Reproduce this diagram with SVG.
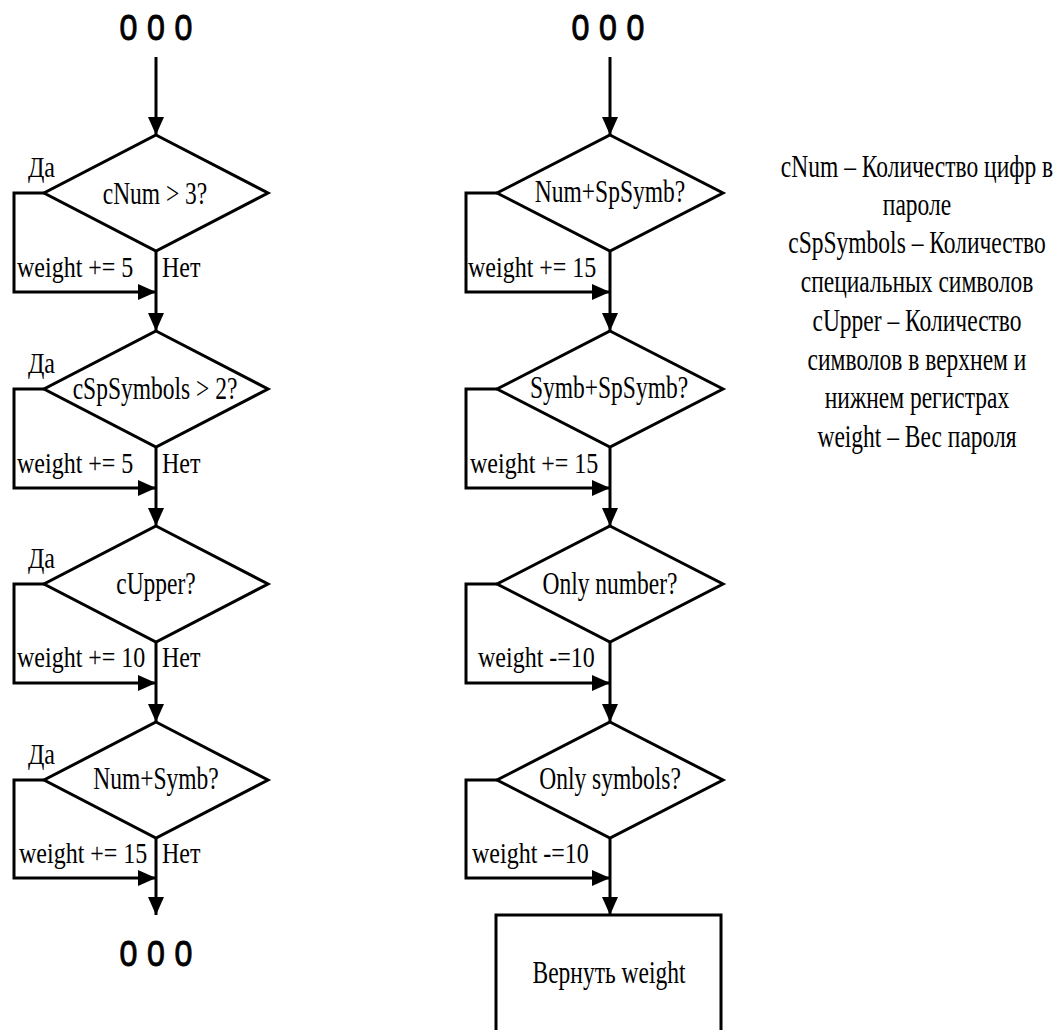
<svg xmlns="http://www.w3.org/2000/svg" width="1059" height="1030" viewBox="0 0 1059 1030">
<style>
.shape{fill:#fff;stroke:#000;stroke-width:3}
.line{fill:none;stroke:#000;stroke-width:3}
.t{font-family:"Liberation Serif","Times New Roman",serif;font-size:24px;fill:#000}
.s{font-family:"Liberation Serif","Times New Roman",serif;font-size:23.5px;fill:#000;text-anchor:middle}
.dots{font-family:"Liberation Sans",Arial,sans-serif;font-size:33px;fill:#000;stroke:#000;stroke-width:0.6;text-anchor:middle}
</style>
<defs>
<marker id="arr" markerUnits="userSpaceOnUse" markerWidth="20" markerHeight="16" refX="18" refY="8" orient="auto">
<path d="M0,0 L18,8 L0,16 z" fill="#000"/>
</marker>
</defs>
<rect width="1059" height="1030" fill="#fff"/>
<g id="connectors">
<line class="line" x1="156" y1="57" x2="156" y2="135" marker-end="url(#arr)"/>
<polyline class="line" points="44,193 14,193 14,292 156,292" marker-end="url(#arr)"/>
<line class="line" x1="156" y1="251" x2="156" y2="331" marker-end="url(#arr)"/>
<polyline class="line" points="44,389 14,389 14,488 156,488" marker-end="url(#arr)"/>
<line class="line" x1="156" y1="447" x2="156" y2="526" marker-end="url(#arr)"/>
<polyline class="line" points="44,584 14,584 14,683 156,683" marker-end="url(#arr)"/>
<line class="line" x1="156" y1="642" x2="156" y2="722" marker-end="url(#arr)"/>
<polyline class="line" points="44,780 14,780 14,878 156,878" marker-end="url(#arr)"/>
<line class="line" x1="156" y1="838" x2="156" y2="915" marker-end="url(#arr)"/>

<line class="line" x1="610" y1="57" x2="610" y2="135" marker-end="url(#arr)"/>
<polyline class="line" points="497,193 466,193 466,292 610,292" marker-end="url(#arr)"/>
<line class="line" x1="610" y1="251" x2="610" y2="331" marker-end="url(#arr)"/>
<polyline class="line" points="497,389 466,389 466,488 610,488" marker-end="url(#arr)"/>
<line class="line" x1="610" y1="447" x2="610" y2="526" marker-end="url(#arr)"/>
<polyline class="line" points="497,584 466,584 466,683 610,683" marker-end="url(#arr)"/>
<line class="line" x1="610" y1="642" x2="610" y2="722" marker-end="url(#arr)"/>
<polyline class="line" points="497,780 466,780 466,878 610,878" marker-end="url(#arr)"/>
<line class="line" x1="610" y1="838" x2="610" y2="915" marker-end="url(#arr)"/>
</g>
<g id="labels">
<text class="t" transform="matrix(1,0,0,1.2,28,177)">Да</text>
<text class="t" transform="matrix(1,0,0,1.2,28,373)">Да</text>
<text class="t" transform="matrix(1,0,0,1.2,28,568)">Да</text>
<text class="t" transform="matrix(1,0,0,1.2,28,764)">Да</text>
<text class="t" transform="matrix(1,0,0,1.2,17,277)">weight += 5</text>
<text class="t" transform="matrix(1,0,0,1.2,17,473)">weight += 5</text>
<text class="t" transform="matrix(1,0,0,1.2,17,667)">weight += 10</text>
<text class="t" transform="matrix(1,0,0,1.2,19,863)">weight += 15</text>
<text class="t" transform="matrix(1,0,0,1.2,162,277)">Нет</text>
<text class="t" transform="matrix(1,0,0,1.2,162,473)">Нет</text>
<text class="t" transform="matrix(1,0,0,1.2,162,667)">Нет</text>
<text class="t" transform="matrix(1,0,0,1.2,162,863)">Нет</text>
<text class="t" transform="matrix(1,0,0,1.2,468,277)">weight += 15</text>
<text class="t" transform="matrix(1,0,0,1.2,470,473)">weight += 15</text>
<text class="t" transform="matrix(1,0,0,1.2,478,667)">weight -=10</text>
<text class="t" transform="matrix(1,0,0,1.2,472,863)">weight -=10</text>
</g>
<g id="start-left"><text class="dots" transform="matrix(1,0,0,1.4,156,40)">o o o</text></g>
<g id="end-left"><text class="dots" transform="matrix(1,0,0,1.4,156,966)">o o o</text></g>
<g id="start-right"><text class="dots" transform="matrix(1,0,0,1.4,608,40)">o o o</text></g>
<g id="d1"><polygon class="shape" points="156,135 268,193 156,251 44,193"/><text class="s" transform="matrix(1,0,0,1.3,155,204)">cNum &gt; 3?</text></g>
<g id="d2"><polygon class="shape" points="156,331 268,389 156,447 44,389"/><text class="s" transform="matrix(1,0,0,1.3,155,399)">cSpSymbols &gt; 2?</text></g>
<g id="d3"><polygon class="shape" points="156,526 268,584 156,642 44,584"/><text class="s" transform="matrix(1,0,0,1.3,156,594)">cUpper?</text></g>
<g id="d4"><polygon class="shape" points="156,722 268,780 156,838 44,780"/><text class="s" transform="matrix(1,0,0,1.3,156,789)">Num+Symb?</text></g>
<g id="d5"><polygon class="shape" points="610,135 723,193 610,251 497,193"/><text class="s" transform="matrix(1,0,0,1.3,610,202)">Num+SpSymb?</text></g>
<g id="d6"><polygon class="shape" points="610,331 723,389 610,447 497,389"/><text class="s" transform="matrix(1,0,0,1.3,609,398)">Symb+SpSymb?</text></g>
<g id="d7"><polygon class="shape" points="610,526 723,584 610,642 497,584"/><text class="s" transform="matrix(1,0,0,1.3,610,594)">Only number?</text></g>
<g id="d8"><polygon class="shape" points="610,722 723,780 610,838 497,780"/><text class="s" transform="matrix(1,0,0,1.3,610,789)">Only symbols?</text></g>
<g id="ret"><rect class="shape" x="496" y="915" width="225" height="130"/><text class="s" transform="matrix(1,0,0,1.3,609,983)">Вернуть weight</text></g>
<g id="legend">
<text class="s" transform="matrix(1,0,0,1.3,917,177)">cNum – Количество цифр в</text>
<text class="s" transform="matrix(1,0,0,1.3,917,215)">пароле</text>
<text class="s" transform="matrix(1,0,0,1.3,917,253)">cSpSymbols – Количество</text>
<text class="s" transform="matrix(1,0,0,1.3,917,292)">специальных символов</text>
<text class="s" transform="matrix(1,0,0,1.3,917,331)">cUpper – Количество</text>
<text class="s" transform="matrix(1,0,0,1.3,917,370)">символов в верхнем и</text>
<text class="s" transform="matrix(1,0,0,1.3,917,408)">нижнем регистрах</text>
<text class="s" transform="matrix(1,0,0,1.3,917,447)">weight – Вес пароля</text>
</g>
</svg>
